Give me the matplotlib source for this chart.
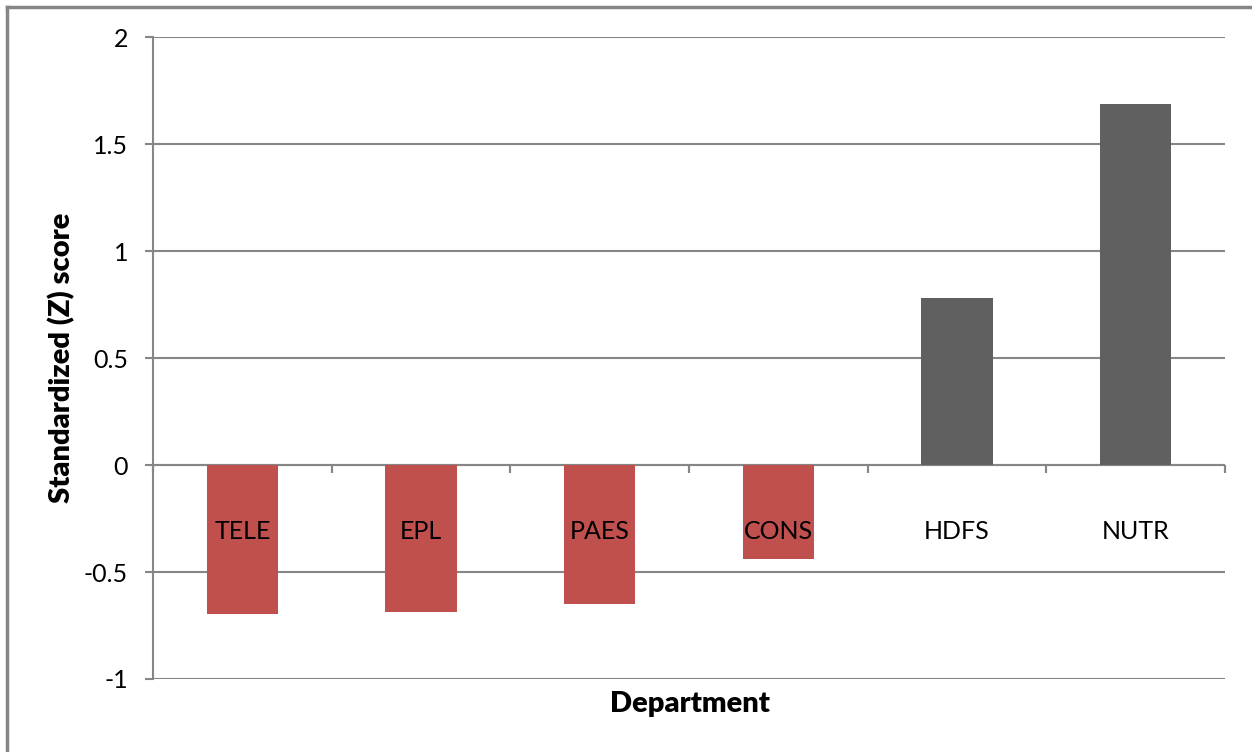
import numpy as np
import matplotlib.pyplot as plt
from matplotlib.lines import Line2D
from matplotlib.transforms import offset_copy

departments = ["TELE", "EPL", "PAES", "CONS", "HDFS", "NUTR"]
z_scores = [-0.695, -0.685, -0.65, -0.44, 0.78, 1.685]
y_ticks = [-1, -0.5, 0, 0.5, 1, 1.5, 2]
y_tick_labels = ["-1", "-0.5", "0", "0.5", "1", "1.5", "2"]

plt.rcParams['font.family'] = ['Lato', 'DejaVu Sans']

W, H = 1252, 752
fig = plt.figure(figsize=(W / 100, H / 100), dpi=100)
ax = fig.add_axes([153 / W, 1 - 679 / H, (1225 - 153) / W, (679 - 37) / H])

grid_col = "#868686"
x = np.arange(len(departments))
colors = ["#C0504D" if v < 0 else "#606060" for v in z_scores]
ax.bar(x, z_scores, width=0.4, color=colors, zorder=3)

ax.set_xlim(-0.5, len(departments) - 0.5)
ax.set_ylim(-1, 2)
ax.set_yticks(y_ticks)
ax.set_yticklabels(y_tick_labels, fontsize=18)
ax.yaxis.grid(True, color=grid_col, linewidth=1.5, zorder=0)
ax.tick_params(axis='y', length=6, width=1.5, color=grid_col, pad=12)

for s in ["top", "right", "bottom"]:
    ax.spines[s].set_visible(False)
ax.spines["left"].set_color(grid_col)
ax.spines["left"].set_linewidth(1.5)

# category axis drawn on the zero line
ax.set_xticks([])
ax.axhline(0, color=grid_col, linewidth=1.5, zorder=2)
for b in np.arange(len(departments) + 1) - 0.5:
    ax.plot([b, b], [0, 0], marker=3, markersize=6, color=grid_col,
            markeredgewidth=1.5, zorder=2, clip_on=False)

lab_trans = offset_copy(ax.transData, fig=fig, x=0, y=-66 * 72 / 100, units='points')
for i, name in enumerate(departments):
    ax.text(x[i], 0, name, transform=lab_trans, ha='center', va='center',
            fontsize=18, zorder=4)

fig.text(62 / W, 1 - 358 / H, "Standardized (Z) score", rotation=90, ha='center',
         va='center', fontsize=21, fontweight='heavy')
fig.text(690 / W, 1 - 704 / H, "Department", ha='center', va='center',
         fontsize=21, fontweight='heavy')

# outer chart border
fig.add_artist(Line2D([7 / W, 7 / W], [0, 1 - 7 / H], transform=fig.transFigure,
                      color="#868686", linewidth=2.5))
fig.add_artist(Line2D([7 / W, 1], [1 - 7 / H, 1 - 7 / H], transform=fig.transFigure,
                      color="#868686", linewidth=2.5))

fig.savefig("out.png", dpi=100)
